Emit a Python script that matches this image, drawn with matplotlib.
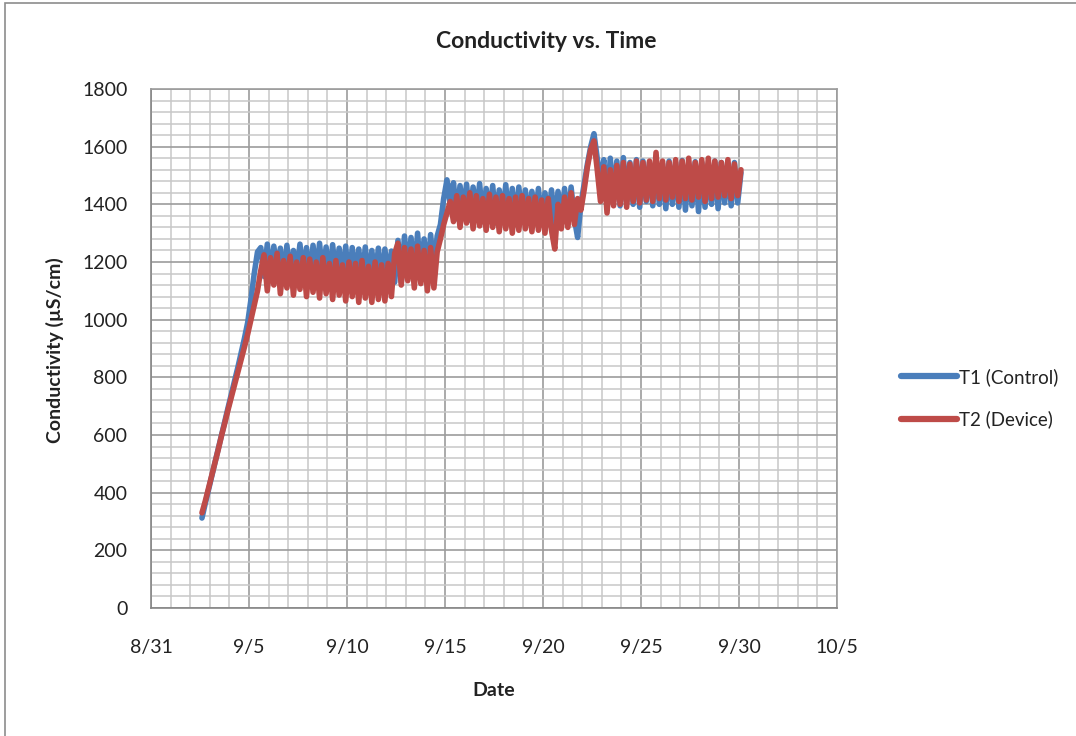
import pandas as pd
import matplotlib.pyplot as plt
from matplotlib.patches import Rectangle

# readings every 4 hours, starting 9/2 afternoon
start_time = "2013-09-02 14:24"

t1_control = [
    # ramp
    312, 362, 410, 458, 505, 552, 600, 648, 695, 742, 790, 835,
    885, 935, 990, 1070, 1160, 1235,
    # 9/5 - 9/12
    1250, 1150, 1262, 1140, 1255, 1165, 1248, 1135, 1258, 1150, 1240, 1160,
    1262, 1145, 1250, 1130, 1258, 1150, 1265, 1140, 1252, 1125, 1260, 1145,
    1248, 1135, 1255, 1120, 1250, 1140, 1245, 1130, 1252, 1125, 1240, 1135,
    1248, 1120, 1245, 1140, 1238, 1130,
    # 9/12 - 9/14
    1275, 1130, 1290, 1160, 1285, 1145, 1300, 1155, 1280, 1150, 1295, 1165,
    1290,
    1330, 1420, 1485,
    # 9/15 - 9/21
    1400, 1475, 1350, 1465, 1370, 1470, 1345, 1460, 1360, 1472, 1340, 1455,
    1355, 1465, 1335, 1450, 1350, 1468, 1340, 1455, 1330, 1460, 1345, 1450,
    1335, 1445, 1350, 1455, 1330, 1440, 1340, 1450, 1325, 1445, 1340, 1455,
    1330, 1460, 1350, 1285,
    # jump on 9/22
    1400, 1470, 1540, 1600, 1645, 1560, 1470,
    # 9/23 - 9/30
    1555, 1400, 1560, 1410, 1550, 1395, 1562, 1405, 1545, 1400, 1555, 1390,
    1550, 1410, 1545, 1395, 1558, 1400, 1540, 1385, 1550, 1400, 1545, 1390,
    1552, 1380, 1540, 1395, 1548, 1375, 1545, 1390, 1540, 1400, 1550, 1385,
    1545, 1405, 1540, 1395, 1545, 1405, 1510,
]

t2_device = [
    # ramp
    330, 370, 415, 460, 505, 550, 598, 642, 688, 732, 775, 818,
    860, 905, 950, 1000, 1050, 1100,
    # 9/5 - 9/12
    1170, 1225, 1100, 1215, 1120, 1230, 1090, 1205, 1110, 1220, 1085, 1200,
    1105, 1215, 1080, 1210, 1095, 1200, 1075, 1215, 1090, 1195, 1070, 1205,
    1085, 1190, 1065, 1200, 1080, 1195, 1060, 1205, 1075, 1185, 1060, 1200,
    1070, 1190, 1065, 1195, 1080, 1230,
    # 9/12 - 9/14
    1265, 1120, 1250, 1135, 1245, 1110, 1255, 1125, 1240, 1100, 1250, 1110,
    1235,
    1280, 1330, 1370,
    # 9/15 - 9/21
    1410, 1340, 1430, 1320, 1425, 1335, 1440, 1315, 1430, 1325, 1420, 1310,
    1435, 1320, 1425, 1305, 1430, 1315, 1420, 1300, 1425, 1310, 1430, 1315,
    1420, 1305, 1425, 1310, 1415, 1300, 1420, 1310, 1245, 1400, 1315, 1425,
    1320, 1440, 1330, 1420,
    # jump on 9/22
    1380, 1450, 1530, 1590, 1620, 1520, 1410,
    # 9/23 - 9/30
    1530, 1370, 1520, 1395, 1535, 1400, 1545, 1390, 1540, 1410, 1550, 1405,
    1545, 1415, 1550, 1410, 1580, 1420, 1550, 1415, 1545, 1425, 1555, 1410,
    1550, 1420, 1560, 1415, 1545, 1425, 1555, 1410, 1560, 1420, 1550, 1425,
    1545, 1430, 1555, 1420, 1540, 1430, 1520,
]

date_ticks = ["8/31", "9/5", "9/10", "9/15", "9/20", "9/25", "9/30", "10/5"]

times = pd.date_range(start_time, periods=len(t1_control), freq="4h")
tick_pos = pd.date_range("2013-08-31", periods=len(date_ticks), freq="5D")
day_pos = pd.date_range("2013-08-31", "2013-10-05", freq="D")

plt.rcParams["font.family"] = ["Lato", "DejaVu Sans"]

fig = plt.figure(figsize=(10.76, 7.36), dpi=100)
fig.patches.append(Rectangle((5 / 1076, -0.05), 1.2, 1.05 - 2.5 / 736,
                             transform=fig.transFigure, fill=False,
                             edgecolor="#8c8c8c", lw=1.2))
ax = fig.add_axes([151 / 1076, 1 - 608 / 736, 686 / 1076, 519 / 736])

ax.plot(times, t1_control, color="#4A7EBB", lw=4.0, solid_joinstyle="round",
        solid_capstyle="round", label="T1 (Control)", zorder=3)
ax.plot(times, t2_device, color="#BE4B48", lw=4.0, solid_joinstyle="round",
        solid_capstyle="round", label="T2 (Device)", zorder=4)

ax.set_xlim(tick_pos[0], tick_pos[-1])
ax.set_ylim(0, 1800)
ax.set_xticks(tick_pos)
ax.set_xticklabels(date_ticks)
ax.set_xticks(day_pos, minor=True)
ax.set_yticks(range(0, 1801, 200))
ax.set_yticks(range(0, 1801, 40), minor=True)
ax.tick_params(which="both", length=0)
ax.tick_params(axis="x", pad=22, labelsize=14, colors="#222222")
ax.tick_params(axis="y", pad=17, labelsize=14, colors="#222222")

ax.set_axisbelow(True)
ax.grid(which="minor", color="#c8c8c8", lw=1.1)
ax.grid(which="major", color="#9c9c9c", lw=1.2)
for side in ["top", "right"]:
    ax.spines[side].set_color("#9c9c9c")
for side in ["left", "bottom"]:
    ax.spines[side].set_color("#868686")
for sp in ax.spines.values():
    sp.set_linewidth(1.2)

fig.text(546 / 1076, 1 - 42 / 736, "Conductivity vs. Time", ha="center",
         va="center", fontsize=16.5, fontweight="bold", color="#222222")
fig.text(494 / 1076, 1 - 690 / 736, "Date", ha="center", va="center",
         fontsize=14, fontweight="bold", color="#222222")
fig.text(55 / 1076, 1 - 350 / 736, "Conductivity (µS/cm)", ha="center",
         va="center", rotation=90, fontsize=14, fontweight="bold",
         color="#222222")

leg = ax.legend(loc="center left", bbox_to_anchor=(884 / 1076, 1 - 398 / 736),
                bbox_transform=fig.transFigure, frameon=False, fontsize=13.5,
                handlelength=3.0, handletextpad=0.1, labelspacing=1.3)
for line in leg.get_lines():
    line.set_linewidth(4.5)
for txt in leg.get_texts():
    txt.set_color("#222222")

fig.savefig("out.png", dpi=100)
plt.close(fig)
